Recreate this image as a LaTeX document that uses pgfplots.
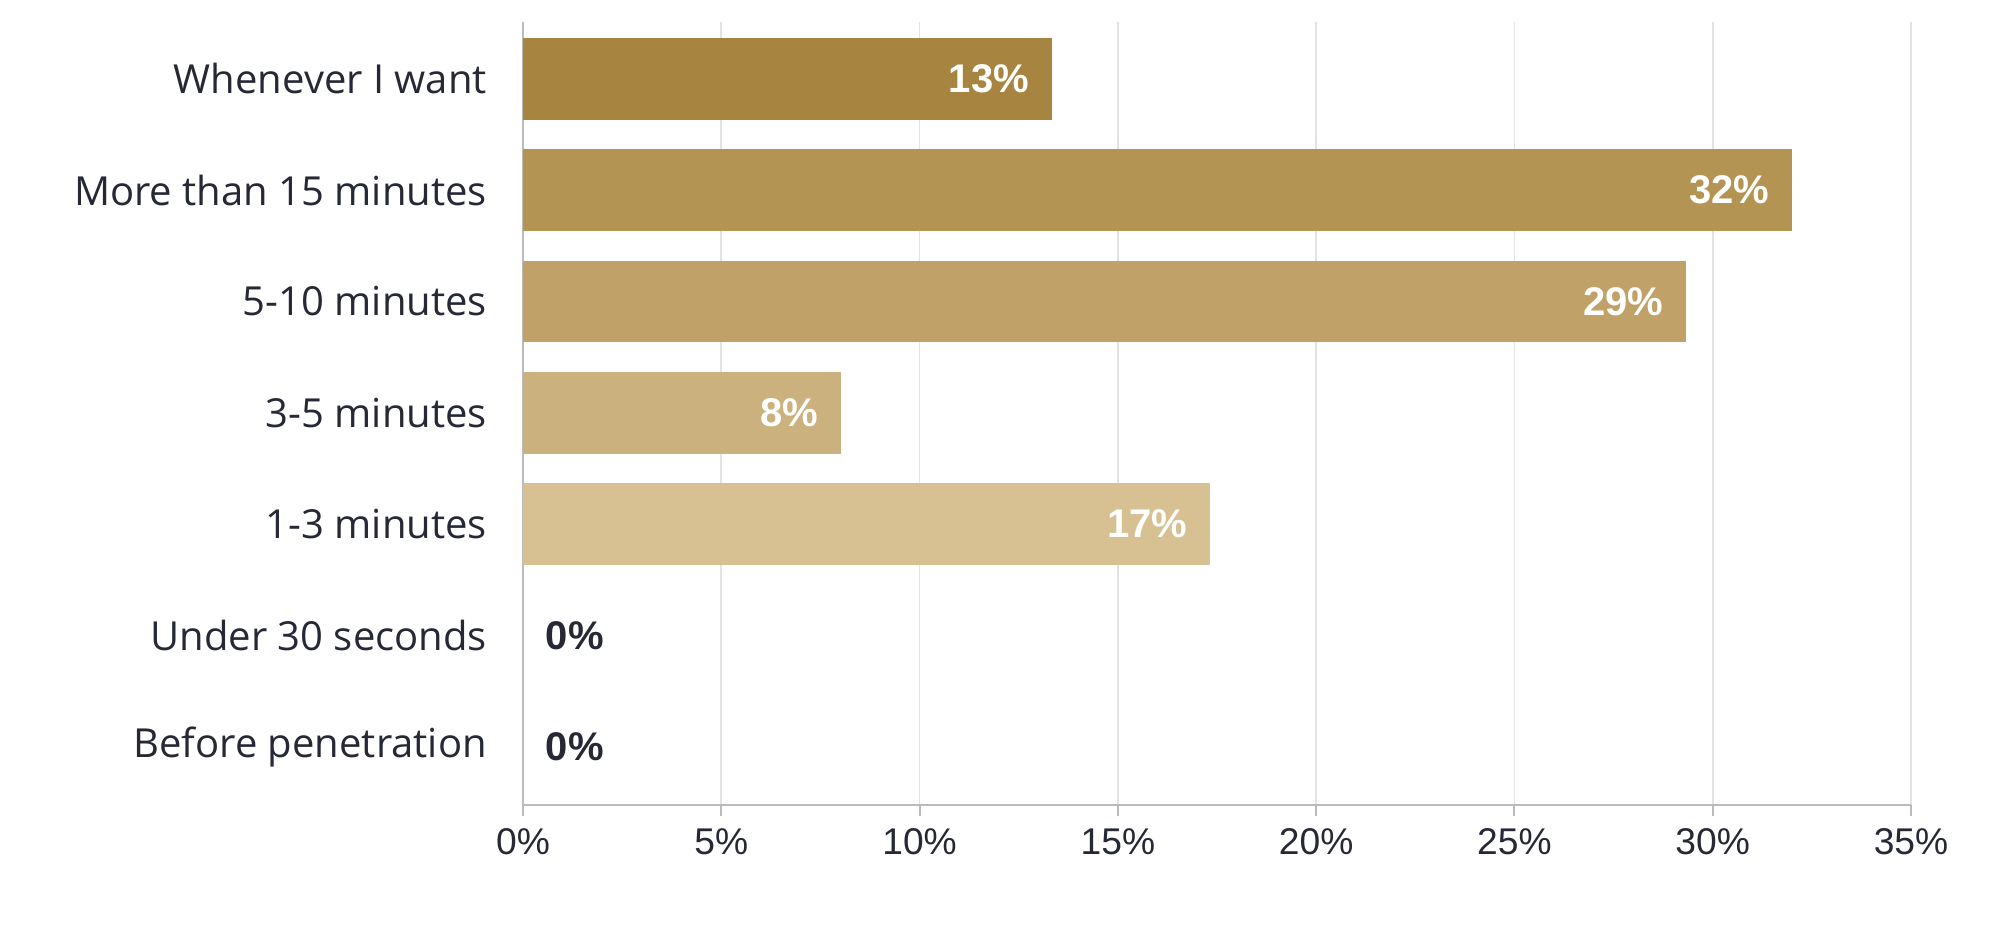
\documentclass[border=0pt]{standalone}
\usepackage{fontspec}
\setmainfont{Liberation Sans}
\newfontfamily\opensans{Open Sans}
\usepackage{pgfplots}
\pgfplotsset{compat=1.18}

\definecolor{c6}{HTML}{A78540}
\definecolor{c5}{HTML}{B39452}
\definecolor{c4}{HTML}{C0A268}
\definecolor{c3}{HTML}{CBB17D}
\definecolor{c2}{HTML}{D7C192}
\definecolor{txt}{HTML}{262935}
\definecolor{axisgray}{HTML}{BBBBBB}
\definecolor{gridgray}{HTML}{E3E3E3}

\pgfplotsset{
  inlabel/.style={
    point meta=x,
    nodes near coords={\pgfmathprintnumber[fixed,precision=0,assume math mode=true]{\pgfplotspointmeta}\%},
    every node near coord/.append style={anchor=east, xshift=-5.5pt, text=white,
      font=\bfseries\fontsize{10}{12}\selectfont, inner sep=0pt}},
  outlabel/.style={
    point meta=x,
    nodes near coords={\pgfmathprintnumber[fixed,precision=0,assume math mode=true]{\pgfplotspointmeta}\%},
    every node near coord/.append style={anchor=west, xshift=5.5pt, text=txt,
      font=\bfseries\fontsize{10}{12}\selectfont, inner sep=0pt}},
}

\begin{document}
\begin{tikzpicture}
\begin{axis}[
    scale only axis,
    width=347pt, height=195.75pt,
    xbar, bar width=0.734, bar shift=0pt,
    xmin=0, xmax=35, ymin=-0.523, ymax=6.51,
    axis x line=bottom, axis y line=left,
    axis line style={-, draw=axisgray, line width=0.5pt},
    xtick={0,5,...,35},
    xticklabel={\pgfmathprintnumber[assume math mode=true]{\tick}\%},
    xmajorgrids, grid style={gridgray, line width=0.4pt},
    tick align=outside, major tick length=2.75pt,
    xtick style={axisgray, line width=0.5pt},
    ytick={0,...,6},
    yticklabels={Before penetration, Under 30 seconds, 1-3 minutes, 3-5 minutes,
      5-10 minutes, More than 15 minutes, Whenever I want},
    ytick style={draw=none},
    yticklabel style={font=\opensans\fontsize{10}{12}\selectfont, text=txt,
      inner sep=0pt, xshift=-6.1pt},
    xticklabel style={font=\fontsize{9.3}{11}\selectfont, text=txt,
      inner sep=0pt, yshift=-3pt},
    clip=false,
  ]
  \addplot[fill=c6, draw=none, inlabel] coordinates {(13.33,6)};
  \addplot[fill=c5, draw=none, inlabel] coordinates {(32.0,5)};
  \addplot[fill=c4, draw=none, inlabel] coordinates {(29.33,4)};
  \addplot[fill=c3, draw=none, inlabel] coordinates {(8.02,3)};
  \addplot[fill=c2, draw=none, inlabel] coordinates {(17.32,2)};
  \addplot[fill=c2, draw=none, outlabel] coordinates {(0,1)};
  \addplot[fill=c2, draw=none, outlabel] coordinates {(0,0)};
\end{axis}
\pgfresetboundingbox
\path[use as bounding box] ([shift={(-130.75pt,-30.75pt)}]current axis.south west)
  rectangle ([shift={(369.25pt,201.25pt)}]current axis.south west);
\end{tikzpicture}
\end{document}
